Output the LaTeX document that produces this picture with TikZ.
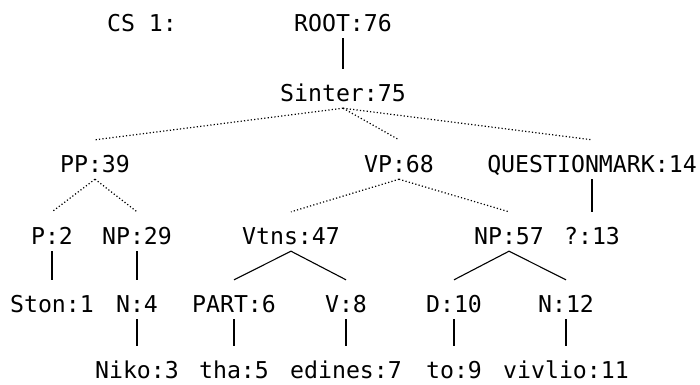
\documentclass[tikz,border=0pt]{standalone}
\usepackage{fontspec}
\setmonofont{DejaVu Sans Mono}
\definecolor{treeInk}{HTML}{000000}
\tikzset{
  every picture/.style={font=\ttfamily\fontsize{23.2}{24}\selectfont, text=treeInk},
  tree label/.style={inner sep=0pt, anchor=base, text height=32pt, text depth=7pt},
  tree leaf/.style={tree label, text depth=0pt},
  tree dotted/.style={draw=treeInk, line width=1.2pt, dash pattern=on 1.2pt off 2.2pt},
  tree solid/.style={draw=treeInk, line width=1.1pt}
}

\begin{document}
\begin{tikzpicture}[x=1pt,y=-1pt]
  \useasboundingbox (0,0) rectangle (700,384);
  % row 1 and 2
  \node[tree label] (cs) at (142,31) {CS 1:};
  \node[tree label] (root) at (343,31) {ROOT:76};
  \node[tree label] (sinter) at (343,101) {Sinter:75};
  % row 3
  \node[tree label] (pp) at (95,172) {PP:39};
  \node[tree label] (vp) at (399,172) {VP:68};
  \node[tree label] (qm) at (592,172) {QUESTIONMARK:14};
  % row 4
  \node[tree label] (p) at (52,244) {P:2};
  \node[tree label] (nppp) at (137,244) {NP:29};
  \node[tree label] (vtns) at (291,244) {Vtns:47};
  \node[tree label] (npvp) at (509,244) {NP:57};
  \node[tree label] (qmark) at (592,244) {?:13};
  % row 5
  \node[tree label] (ston) at (52,312) {Ston:1};
  \node[tree label] (n) at (137,312) {N:4};
  \node[tree label] (part) at (234,312) {PART:6};
  \node[tree label] (v) at (346,312) {V:8};
  \node[tree label] (d) at (454,312) {D:10};
  \node[tree label] (nobj) at (566,312) {N:12};
  % row 6
  \node[tree leaf] (niko) at (137,378) {Niko:3};
  \node[tree leaf] (tha) at (234,378) {tha:5};
  \node[tree leaf] (edines) at (346,378) {edines:7};
  \node[tree leaf] (to) at (454,378) {to:9};
  \node[tree leaf] (vivlio) at (566,378) {vivlio:11};
  % connectors
  \draw[tree solid] (root.south) -- (sinter.north);
  \foreach \kid in {pp,vp,qm}
    \draw[tree dotted] (sinter.south) -- (\kid.north);
  \foreach \kid in {p,nppp}
    \draw[tree dotted] (pp.south) -- (\kid.north);
  \foreach \kid in {vtns,npvp}
    \draw[tree dotted] (vp.south) -- (\kid.north);
  \draw[tree solid] (qm.south) -- (qmark.north);
  \draw[tree solid] (p.south) -- (ston.north);
  \draw[tree solid] (nppp.south) -- (n.north);
  \draw[tree solid] (vtns.south) -- (part.north);
  \draw[tree solid] (vtns.south) -- (v.north);
  \draw[tree solid] (npvp.south) -- (d.north);
  \draw[tree solid] (npvp.south) -- (nobj.north);
  \draw[tree solid] (n.south) -- (niko.north);
  \draw[tree solid] (part.south) -- (tha.north);
  \draw[tree solid] (v.south) -- (edines.north);
  \draw[tree solid] (d.south) -- (to.north);
  \draw[tree solid] (nobj.south) -- (vivlio.north);
\end{tikzpicture}
\end{document}
